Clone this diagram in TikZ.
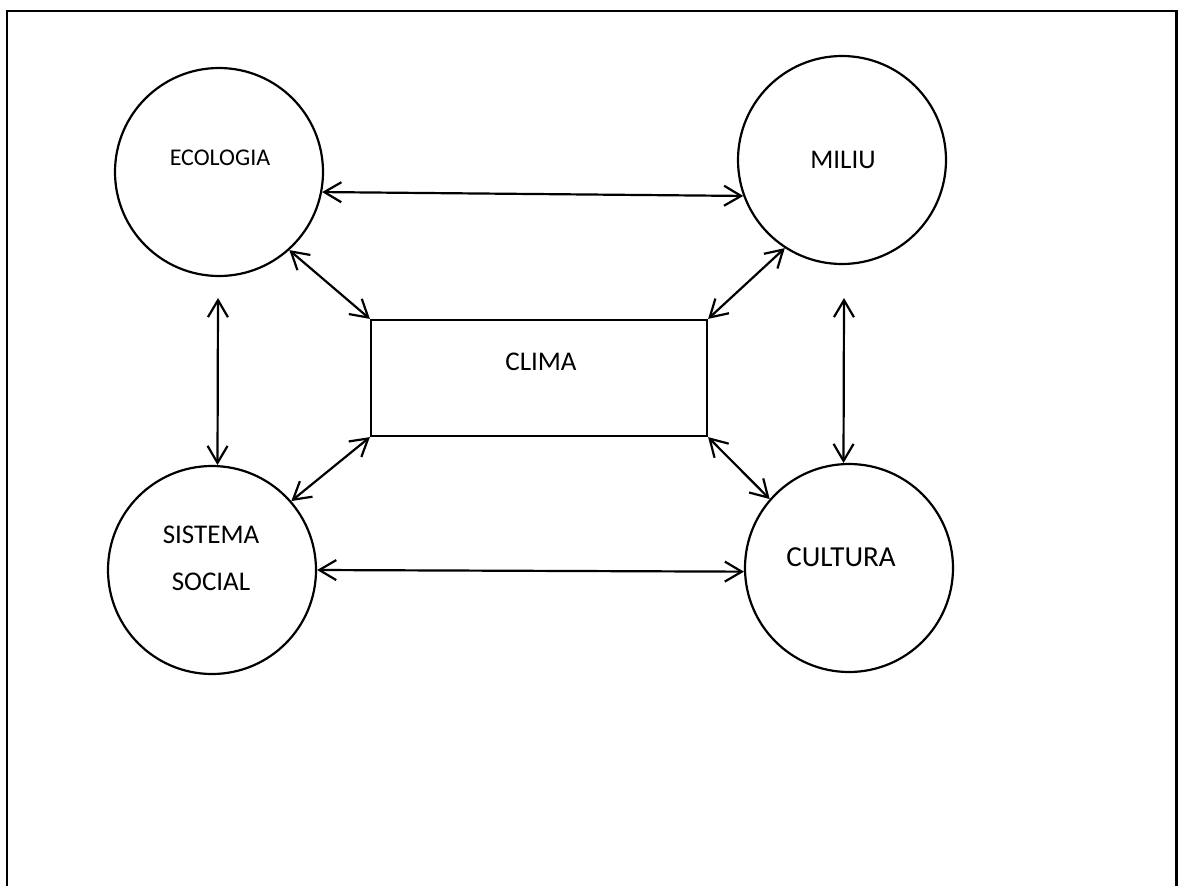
\documentclass[tikz,border=0pt]{standalone}
\usepackage{fontspec}
\setmainfont{Carlito}
\usetikzlibrary{arrows.meta}
\begin{document}
\begin{tikzpicture}[x=1pt,y=-1pt,
  bubble/.style={circle,draw,line width=2.2pt,minimum size=208pt,inner sep=0pt},
  climabox/.style={rectangle,draw,line width=2.2pt,minimum width=336pt,minimum height=116pt,inner sep=0pt},
  link/.style={line width=2.2pt,{Straight Barb[length=17pt,width=20pt,line width=2.2pt]}-{Straight Barb[length=17pt,width=20pt,line width=2.2pt]}},
  lbl/.style={inner sep=0pt,font=\fontsize{27}{47}\selectfont,align=center},
  smalllbl/.style={inner sep=0pt,font=\fontsize{24}{30}\selectfont}]
\useasboundingbox (0,0) rectangle (1178,886);
\draw[line width=2.2pt] (7,886) -- (7,11) -- (1176.5,11) -- (1176.5,886);
\node[bubble] (eco) at (219,172) {};
\node[bubble] (mil) at (842,160) {};
\node[bubble] (sis) at (212,570) {};
\node[bubble] (cul) at (849,568) {};
\node[climabox] (clima) at (539,378) {};
\node[smalllbl] (ecot) at (220,158) {ECOLOGIA};
\node[lbl] (milt) at (843,160) {MILIU};
\node[lbl] (climat) at (541,362) {CLIMA};
\node[lbl] (sist) at (211,558) {SISTEMA\\SOCIAL};
\node[lbl,font=\fontsize{29}{47}\selectfont] (cult) at (841,557) {CULTURA};
\coordinate (ecobot) at (218,298);
\coordinate (milbot) at (844,298);
\draw[link] (eco.-11) -- (mil.200);
\draw[link] (eco.-48) -- (clima.north west);
\draw[link] (mil.237) -- (clima.north east);
\draw[link] (sis.41) -- (clima.south west);
\draw[link] (cul.139) -- (clima.south east);
\draw[link] (ecobot) -- (sis.87);
\draw[link] (milbot) -- (cul.93);
\draw[link] (sis.0) -- (cul.182);
\end{tikzpicture}
\end{document}
